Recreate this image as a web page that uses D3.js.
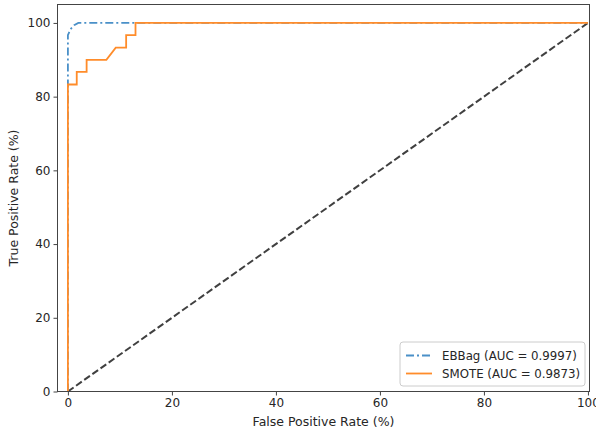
<!DOCTYPE html>
<html><head><meta charset="utf-8">
<script src="https://cdn.jsdelivr.net/npm/d3@7"></script>
<style>body{margin:0;background:#fff}svg{display:block}text{font-family:"DejaVu Sans",sans-serif;fill:#262626}</style>
</head><body><div id="chart"></div>
<script>
const ebbagFpr = [0, 0, 0.5, 1.2, 2, 100];
const ebbagTpr = [0, 96.7, 98.3, 99.4, 100, 100];
const smoteFpr = [0, 0, 1.7, 1.7, 3.6, 3.6, 7.4, 9.2, 11.2, 11.2, 13.0, 13.0, 100];
const smoteTpr = [0, 83.3, 83.3, 86.7, 86.7, 90, 90, 93.3, 93.3, 96.7, 96.7, 100, 100];
const diagX = [0, 100];
const diagY = [0, 100];
const xTicks = [0, 20, 40, 60, 80, 100];
const yTicks = [0, 20, 40, 60, 80, 100];
const legendLabels = ["EBBag (AUC = 0.9997)", "SMOTE (AUC = 0.9873)"];

const W = 596, H = 431;
const svg = d3.select("#chart").append("svg").attr("width", W).attr("height", H);
const L = 57.5, R = 589.5, T = 4.5, B = 391.5;
const x = d3.scaleLinear().domain([-2, 100.3]).range([L, R]);
const y = d3.scaleLinear().domain([0, 105]).range([B, T]);

const line = d3.line().x(d => x(d[0])).y(d => y(d[1]));
const plot = svg.append("g");
plot.append("path").datum(diagX.map((v, i) => [v, diagY[i]]))
  .attr("d", line).attr("fill", "none").attr("stroke", "#404040").attr("stroke-width", 2).attr("stroke-dasharray", "7,3");
plot.append("path").datum(ebbagFpr.map((v, i) => [v, ebbagTpr[i]]))
  .attr("d", line).attr("fill", "none").attr("stroke", "#4a90c8").attr("stroke-width", 1.8).attr("stroke-dasharray", "8,3,2,3");
plot.append("path").datum(smoteFpr.map((v, i) => [v, smoteTpr[i]]))
  .attr("d", line).attr("fill", "none").attr("stroke", "#ff8c2a").attr("stroke-width", 1.8);

const xAxis = d3.axisBottom(x).tickValues(xTicks).tickSize(4).tickPadding(3).tickFormat(d3.format("d"));
const yAxis = d3.axisLeft(y).tickValues(yTicks).tickSize(4).tickPadding(3).tickFormat(d3.format("d"));
const gx = svg.append("g").attr("transform", `translate(0,${B})`).call(xAxis);
const gy = svg.append("g").attr("transform", `translate(${L},0)`).call(yAxis);
[gx, gy].forEach(a => {
  a.select(".domain").remove();
  a.selectAll("line").attr("stroke", "#444");
  a.selectAll("text").style("font-size", "12px").attr("fill", "#262626");
});
svg.append("rect").attr("x", L).attr("y", T).attr("width", R - L).attr("height", B - T)
  .attr("fill", "none").attr("stroke", "#444").attr("stroke-width", 1);

svg.append("text").attr("x", (L + R) / 2).attr("y", 426).attr("text-anchor", "middle").style("font-size", "12.5px").text("False Positive Rate (%)");
svg.append("text").attr("transform", `translate(18,${(T + B) / 2}) rotate(-90)`).attr("text-anchor", "middle").style("font-size", "12.5px").text("True Positive Rate (%)");

const lg = svg.append("g");
lg.append("rect").attr("x", 400).attr("y", 342).attr("width", 185).attr("height", 44).attr("rx", 3)
  .attr("fill", "#fff").attr("fill-opacity", 0.85).attr("stroke", "#ccc");
const styles = [{c: "#4a90c8", d: "8,3,2,3"}, {c: "#ff8c2a", d: null}];
legendLabels.forEach((t, i) => {
  const yy = 355.5 + i * 18;
  lg.append("line").attr("x1", 406).attr("x2", 432).attr("y1", yy).attr("y2", yy)
    .attr("stroke", styles[i].c).attr("stroke-width", 1.8).attr("stroke-dasharray", styles[i].d);
  lg.append("text").attr("x", 442).attr("y", yy + 4).style("font-size", "11.8px").text(t);
});
</script></body></html>
